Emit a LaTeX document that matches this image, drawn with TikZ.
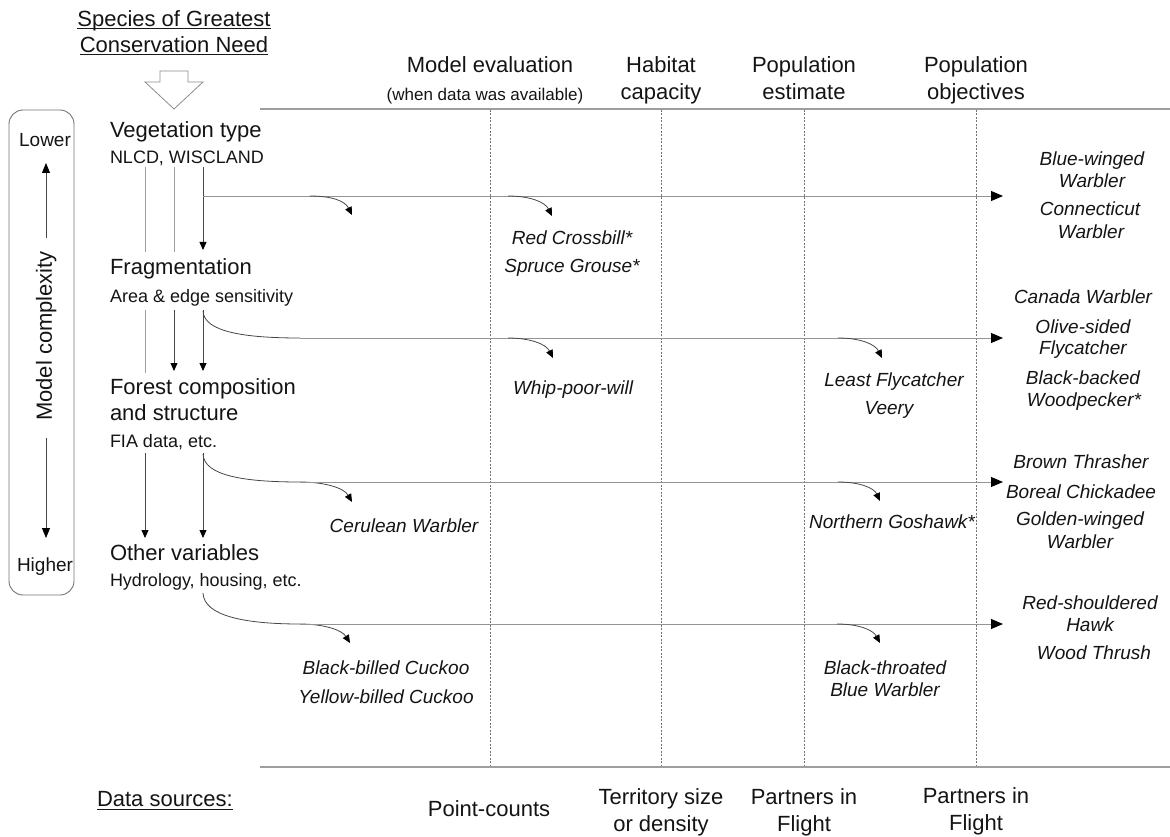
\documentclass[tikz,border=0pt]{standalone}
\usepackage{fontspec}
\setmainfont{Liberation Sans}
\usetikzlibrary{arrows.meta}
\begin{document}
\begin{tikzpicture}[x=1pt,y=-1pt,
 every node/.style={inner sep=0pt, outer sep=0pt, text=black!92},
 big/.style={font=\fontsize{22}{26}\selectfont, text height=15.75pt, text depth=0pt},
 subl/.style={font=\fontsize{18}{22}\selectfont, text height=12.9pt, text depth=0pt},
 smalll/.style={font=\fontsize{17}{20}\selectfont, text height=12.2pt, text depth=0pt},
 lh/.style={font=\fontsize{19}{22}\selectfont, text height=13.6pt, text depth=0pt},
 sp/.style={font=\fontsize{19}{22}\selectfont\itshape, text height=13.6pt, text depth=0pt},
 light/.style={draw=black!38, line width=0.8pt},
 dark/.style={draw=black!72, line width=0.8pt},
 hline/.style={draw=black!42, line width=0.9pt},
 tip/.style={-{Triangle[length=8pt,width=7pt,color=black]}},
 boxtip/.style={-{Triangle[length=10pt,width=8pt,color=black]}},
 bigtip/.style={-{Triangle[length=12pt,width=10pt,color=black]}},
 frame/.style={draw=black!38, line width=1.3pt},
 dots/.style={draw=black!55, line width=0.6pt, dash pattern=on 2pt off 1.5pt},
 uline/.style={draw=black!90, line width=0.8pt},
]
\useasboundingbox (0,0) rectangle (1170,837);

% ---------- title ----------
\node[big] (t1) at (174,19) {Species of Greatest};
\node[big] (t2) at (174,45) {Conservation Need};
\draw[uline] ([yshift=-2pt]t1.south west) -- ([yshift=-2pt]t1.south east);
\draw[uline] ([yshift=-2pt]t2.south west) -- ([yshift=-2pt]t2.south east);
\draw[draw=black!45, line width=0.8pt, line join=miter]
  (160,71) -- (188,71) -- (188,82) -- (203,82) -- (174,109) -- (145,82) -- (160,82) -- cycle;

% ---------- model complexity box ----------
\draw[draw=black!55, line width=0.9pt, rounded corners=14pt] (9,110) rectangle (74,595);
\node[lh] (lower) at (45,140) {Lower};
\node[lh] (higher) at (45,565) {Higher};
\node[big, rotate=90] (mc) at (44,336) {Model complexity};
\coordinate (up0) at (46,238); \coordinate (up1) at (46,163);
\coordinate (dn0) at (46,438); \coordinate (dn1) at (46,538);
\draw[dark, boxtip] (up0) -- (up1);
\draw[dark, boxtip] (dn0) -- (dn1);

% ---------- column headers ----------
\node[big] (h1a) at (490,65) {Model evaluation};
\node[smalll] (h1b) at (485,94) {(when data was available)};
\node[big] (h2a) at (661,65) {Habitat};
\node[big] (h2b) at (661,92) {capacity};
\node[big] (h3a) at (804,65) {Population};
\node[big] (h3b) at (804,92) {estimate};
\node[big] (h4a) at (976,65) {Population};
\node[big] (h4b) at (976,92) {objectives};

% frame lines
\coordinate (topL) at (260,109); \coordinate (topR) at (1170,109);
\coordinate (botL) at (260,767); \coordinate (botR) at (1170,767);
\draw[frame] (topL) -- (topR);
\draw[frame] (botL) -- (botR);
\foreach \x/\n in {490/d1,661/d2,804/d3,976/d4}{
  \coordinate (\n t) at (\x,110); \coordinate (\n b) at (\x,766);
  \draw[dots] (\n t) -- (\n b);
}

% ---------- left labels ----------
\node[big, anchor=west] (veg) at (110,130) {Vegetation type};
\node[subl, anchor=west] (nlcd) at (110,157) {NLCD, WISCLAND};
\node[big, anchor=west] (frag) at (110,267) {Fragmentation};
\node[subl, anchor=west] (area) at (110,296) {Area \& edge sensitivity};
\node[big, anchor=west] (for1) at (110,387) {Forest composition};
\node[big, anchor=west] (for2) at (110,413) {and structure};
\node[subl, anchor=west] (fia) at (110,441) {FIA data, etc.};
\node[big, anchor=west] (oth) at (110,553) {Other variables};
\node[subl, anchor=west] (hyd) at (110,580) {Hydrology, housing, etc.};

% vertical connectors
\coordinate (a1) at (145,167); \coordinate (a2) at (145,252);
\coordinate (b1) at (174,167); \coordinate (b2) at (174,252);
\coordinate (c1) at (203,167); \coordinate (c2) at (203,250);
\draw[light] (a1) -- (a2);
\draw[light] (b1) -- (b2);
\draw[dark, tip] (c1) -- (c2);
\coordinate (a3) at (145,310); \coordinate (a4) at (145,373);
\coordinate (b3) at (174,310); \coordinate (b4) at (174,371);
\coordinate (c3) at (203,310); \coordinate (c4) at (203,371);
\draw[light] (a3) -- (a4);
\draw[dark, tip] (b3) -- (b4);
\draw[dark, tip] (c3) -- (c4);
\coordinate (a5) at (145,453); \coordinate (a6) at (145,538);
\coordinate (c5) at (203,453); \coordinate (c6) at (203,538);
\draw[dark, tip] (a5) -- (a6);
\draw[dark, tip] (c5) -- (c6);

% ---------- row 1 (y=196) ----------
\coordinate (r1s) at (203,196); \coordinate (r1e) at (1003,196);
\draw[hline, bigtip] (r1s) -- (r1e);
\coordinate (r1b1) at (310,196); \coordinate (r1t1) at (352,215);
\draw[dark, tip] (r1b1) .. controls (332,196) and (345,201) .. (r1t1);
\coordinate (r1b2) at (508,196); \coordinate (r1t2) at (552,216);
\draw[dark, tip] (r1b2) .. controls (530,196) and (545,202) .. (r1t2);

% ---------- row 2 (y=338) ----------
\coordinate (r2c) at (203,311); \coordinate (r2s) at (300,338); \coordinate (r2e) at (1003,338);
\draw[dark] (r2c) .. controls (204,332) and (245,338) .. (r2s);
\draw[hline, bigtip] (r2s) -- (r2e);
\coordinate (r2b1) at (508,338); \coordinate (r2t1) at (553,358);
\draw[dark, tip] (r2b1) .. controls (530,338) and (546,344) .. (r2t1);
\coordinate (r2b2) at (838,338); \coordinate (r2t2) at (882,358);
\draw[dark, tip] (r2b2) .. controls (860,338) and (875,344) .. (r2t2);

% ---------- row 3 (y=482) ----------
\coordinate (r3c) at (203,454); \coordinate (r3s) at (300,482); \coordinate (r3e) at (1003,482);
\coordinate (r3t0) at (352,502);
\draw[dark, tip] (r3c) .. controls (204,476) and (245,482) .. (r3s)
                 .. controls (325,482) and (344,488) .. (r3t0);
\draw[hline, bigtip] (r3s) -- (r3e);
\coordinate (r3b1) at (838,482); \coordinate (r3t1) at (880,501);
\draw[dark, tip] (r3b1) .. controls (860,482) and (874,488) .. (r3t1);

% ---------- row 4 (y=624) ----------
\coordinate (r4c) at (203,593); \coordinate (r4s) at (300,624); \coordinate (r4e) at (1003,624);
\coordinate (r4t0) at (350,643);
\draw[dark, tip] (r4c) .. controls (204,616) and (245,624) .. (r4s)
                 .. controls (324,624) and (342,630) .. (r4t0);
\draw[hline, bigtip] (r4s) -- (r4e);
\coordinate (r4b1) at (837,624); \coordinate (r4t1) at (880,643);
\draw[dark, tip] (r4b1) .. controls (859,624) and (873,630) .. (r4t1);

% ---------- species in columns ----------
\node[sp] (s1) at (572,238) {Red Crossbill*};
\node[sp] (s2) at (572,266) {Spruce Grouse*};
\node[sp] (s3) at (573,388) {Whip-poor-will};
\node[sp] (s4) at (894,380) {Least Flycatcher};
\node[sp] (s5) at (889,408) {Veery};
\node[sp] (s6) at (404,526) {Cerulean Warbler};
\node[sp] (s7) at (892,522) {Northern Goshawk*};
\node[sp] (s8) at (386,668) {Black-billed Cuckoo};
\node[sp] (s9) at (386,697) {Yellow-billed Cuckoo};
\node[sp] (s10) at (885,668) {Black-throated};
\node[sp] (s11) at (885,690) {Blue Warbler};

% ---------- right column ----------
\node[sp] (o1) at (1092,159) {Blue-winged};
\node[sp] (o2) at (1092,181) {Warbler};
\node[sp] (o3) at (1090,209) {Connecticut};
\node[sp] (o4) at (1091,232) {Warbler};
\node[sp] (o5) at (1083,297) {Canada Warbler};
\node[sp] (o6) at (1083,327) {Olive-sided};
\node[sp] (o7) at (1083,348) {Flycatcher};
\node[sp] (o8) at (1083,378) {Black-backed};
\node[sp] (o9) at (1084,400) {Woodpecker*};
\node[sp] (o10) at (1081,462) {Brown Thrasher};
\node[sp] (o11) at (1081,492) {Boreal Chickadee};
\node[sp] (o12) at (1080,519) {Golden-winged};
\node[sp] (o13) at (1080,542) {Warbler};
\node[sp] (o14) at (1090,603) {Red-shouldered};
\node[sp] (o15) at (1090,625) {Hawk};
\node[sp] (o16) at (1094,653) {Wood Thrush};

% ---------- data sources ----------
\node[big, anchor=west] (ds) at (97,799) {Data sources:};
\draw[uline] ([yshift=-3pt]ds.south west) -- ([yshift=-3pt]ds.south east);
\node[big] (b1) at (489,809) {Point-counts};
\node[big] (b2a) at (661,797) {Territory size};
\node[big] (b2b) at (661,824) {or density};
\node[big] (b3a) at (804,797) {Partners in};
\node[big] (b3b) at (804,824) {Flight};
\node[big] (b4a) at (976,796) {Partners in};
\node[big] (b4b) at (976,823) {Flight};
\end{tikzpicture}
\end{document}
